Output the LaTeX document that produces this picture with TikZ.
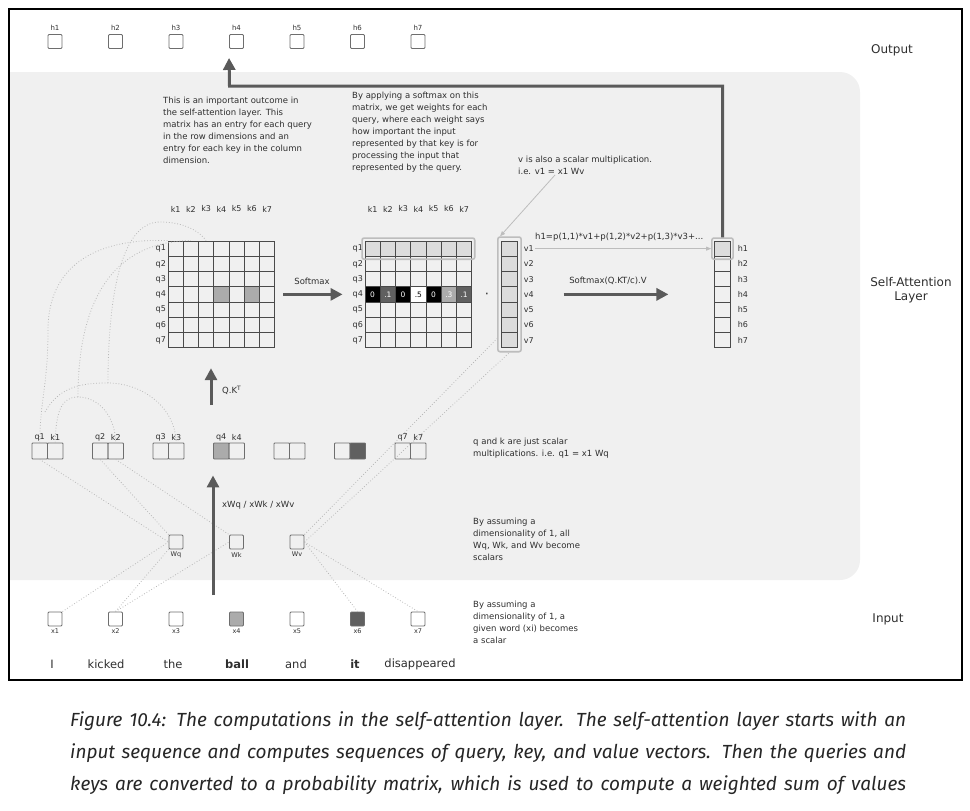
\documentclass[tikz,border=0pt]{standalone}
\usepackage{fontspec}
\setmainfont{DejaVu Sans}
\newfontfamily\capfont{Fira Sans}
\usetikzlibrary{arrows.meta, fit, positioning}

\definecolor{bggray}{HTML}{F0F0F0}
\definecolor{boxgray}{HTML}{6E6E6E}
\definecolor{gridgray}{HTML}{4A4A4A}
\definecolor{lightfill}{HTML}{DCDCDC}
\definecolor{midfill}{HTML}{ABABAB}
\definecolor{darkfill}{HTML}{606060}
\definecolor{arrowgray}{HTML}{5A5A5A}
\definecolor{dotgray}{HTML}{B8B8B8}
\definecolor{framegray}{HTML}{BDBDBD}
\definecolor{txtgray}{HTML}{2E2E2E}

\tikzset{
	sbox/.style={draw=boxgray, line width=0.9pt, rounded corners=1pt, minimum size=14pt, inner sep=0pt},
	pbox/.style={draw=boxgray, line width=0.9pt, rounded corners=0.8pt, minimum width=15.5pt, minimum height=16pt, inner sep=0pt},
	cell/.style={draw=gridgray, line width=0.9pt, minimum size=15.25pt, inner sep=0pt, font=\fontsize{7.5}{8}\selectfont},
	lbl/.style={font=\fontsize{8}{9}\selectfont, text=txtgray, inner sep=1pt},
	note/.style={font=\fontsize{8.5}{12}\selectfont, text=txtgray, align=left, inner sep=0pt, anchor=north west},
	sidelbl/.style={font=\fontsize{12}{14.5}\selectfont, text=txtgray, align=center},
	word/.style={font=\fontsize{11.5}{13}\selectfont, text=txtgray},
	capline/.style={anchor=west, inner sep=0pt, text=black!85, font=\capfont\itshape\fontsize{19}{19}\selectfont},
	bigarrow/.style={draw=arrowgray, line width=3pt, -{Triangle[length=12pt, width=12pt]}},
	thinarrow/.style={draw=framegray, line width=0.8pt, -{Triangle[length=5pt, width=4pt]}},
	dotline/.style={draw=dotgray, line width=0.8pt, dotted},
	hlframe/.style={draw=framegray, line width=1.6pt, rounded corners=2pt, inner sep=2.5pt},
}

\begin{document}
\begin{tikzpicture}[x=1pt, y=-1pt]
	\def\dx{60.5}
	\def\cw{15.25}
	\def\mtop{241}
	\useasboundingbox (0,0) rectangle (970,811);
	\begin{scope}
		\clip (9,9) rectangle (962,680);
		\fill[bggray, rounded corners=20pt] (-40,72) rectangle (860,580);
	\end{scope}
	\draw[black, line width=2.5pt] (9,9) rectangle (962,680);

	\foreach \i in {1,...,7} {
			\node[sbox, fill=white] (out\i) at ({55+\dx*(\i-1)}, 41.5) {};
			\node[lbl, font=\fontsize{7}{8}\selectfont, above=2pt of out\i] (outl\i) {h\i};
		}
	\foreach \i/\f in {1/white, 2/white, 3/white, 4/midfill, 5/white, 6/darkfill, 7/white} {
			\node[sbox, fill=\f] (in\i) at ({55+\dx*(\i-1)}, 619) {};
			\node[lbl, font=\fontsize{6.5}{7}\selectfont, below=1.5pt of in\i] (inl\i) {x\i};
		}
	\foreach \i/\x/\w in {1/52/I, 2/106/kicked, 3/173/the, 4/237/\textbf{ball}, 5/296/and, 6/355/\textbf{it}, 7/420/disappeared} {
			\node[word] (w\i) at (\x, 664) {\w};
		}
	\foreach \n/\t [count=\i] in {wq/Wq, wk/Wk, wv/Wv} {
			\node[sbox] (\n) at ({176+\dx*(\i-1)}, 542) {};
			\node[lbl, font=\fontsize{6.5}{7}\selectfont, below=1.5pt of \n] (\n-l) {\t};
		}
	\foreach \i/\qf/\kf in {1/none/none, 2/none/none, 3/none/none, 4/midfill/none, 5/none/none, 6/none/darkfill, 7/none/none} {
			\node[pbox, fill=\qf] (q\i) at ({39.75+\dx*(\i-1)}, 451) {};
			\node[pbox, fill=\kf] (k\i) at ({55.25+\dx*(\i-1)}, 451) {};
		}
	\foreach \i in {1,2,3,4,7} {
			\node[lbl, above=0.5pt of q\i] (ql\i) {q\i};
			\node[lbl, above=0.5pt of k\i] (kl\i) {k\i};
		}

	\fill[midfill] ({168+\cw*3}, {\mtop+\cw*3}) rectangle ++(\cw, \cw);
	\fill[midfill] ({168+\cw*5}, {\mtop+\cw*3}) rectangle ++(\cw, \cw);
	\fill[lightfill] (365, \mtop) rectangle ++({7*\cw}, \cw);
	\foreach \i in {1,...,7} {
			\foreach \j in {1,...,7} {
					\node[cell] (s-\i-\j) at ({168+\cw*(\j-0.5)}, {\mtop+\cw*(\i-0.5)}) {};
				}
			\node[lbl, left=0.5pt of s-\i-1] (sq\i) {q\i};
			\node[lbl] (sk\i) at ({168+\cw*(\i-0.5)}, 209) {k\i};
			\node[lbl] (pk\i) at ({365+\cw*(\i-0.5)}, 209) {k\i};
		}
	\foreach \i in {1,2,3,5,6,7} {
			\foreach \j in {1,...,7} {
					\node[cell] (p-\i-\j) at ({365+\cw*(\j-0.5)}, {\mtop+\cw*(\i-0.5)}) {};
				}
		}
	\foreach \val/\f/\c [count=\j] in {0/black/white, .1/darkfill/white, 0/black/white, .5/white/black, 0/black/white, .3/midfill/white, .1/darkfill/white} {
			\node[cell, fill=\f, text=\c] (p-4-\j) at ({365+\cw*(\j-0.5)}, {\mtop+\cw*3.5}) {\val};
		}
	\foreach \i in {1,...,7} {
			\node[lbl, left=0.5pt of p-\i-1] (pq\i) {q\i};
			\node[cell, fill=lightfill] (v-\i) at (509.5, {\mtop+\cw*(\i-0.5)}) {};
			\node[lbl, right=5pt of v-\i] (vl\i) {v\i};
			\node[cell] (h-\i) at (722.5, {\mtop+\cw*(\i-0.5)}) {};
			\node[lbl, right=6pt of h-\i] (hl\i) {h\i};
		}
	\node[cell, fill=lightfill] at (h-1) {};
	\node[hlframe, fit=(p-1-1)(p-1-7)] (pfr) {};
	\node[hlframe, inner sep=3.5pt, fit=(v-1)(v-7)] (vfr) {};
	\node[hlframe, fit=(h-1)] (hfr) {};
	\node[lbl, font=\fontsize{13}{13}\selectfont] (dotop) at (487, 296) {·};

	\node[note] (tA) at (163, 97) {This is an important outcome in\\the self-attention layer. This\\matrix has an entry for each query\\in the row dimensions and an\\entry for each key in the column\\dimension.};
	\node[note] (tB) at (352, 92) {By applying a softmax on this\\matrix, we get weights for each\\query, where each weight says\\how important the input\\represented by that key is for\\processing the input that\\represented by the query.};
	\node[note] (tV) at (518, 156) {v is also a scalar multiplication.\\i.e. v1 = x1 Wv};
	\node[note] (tQK) at (473, 438) {q and k are just scalar\\multiplications. i.e. q1 = x1 Wq};
	\node[note] (tW) at (473, 518) {By assuming a\\dimensionality of 1, all\\Wq, Wk, and Wv become\\scalars};
	\node[note] (tX) at (473, 601) {By assuming a\\dimensionality of 1, a\\given word (xi) becomes\\a scalar};
	\node[note, anchor=west] (hsum) at (535, 237.5) {h1=p(1,1)*v1+p(1,2)*v2+p(1,3)*v3+...};
	\node[note, anchor=center] (smv) at (608, 281) {Softmax(Q.KT/c).V};
	\node[note, anchor=center] (smx) at (312, 281) {Softmax};
	\node[note, anchor=west] (qkt) at (222, 390) {Q.K\textsuperscript{T}};
	\node[note, anchor=west] (xw) at (222, 505) {xWq / xWk / xWv};
	\node[sidelbl] (lout) at (892, 50) {Output};
	\node[sidelbl] (lsa) at (911, 290) {Self-Attention\\Layer};
	\node[sidelbl] (lin) at (888, 619) {Input};

	\draw[dotline] (in1.north east) -- (wq.west);
	\draw[dotline] (in2.north) -- (wq.south west);
	\draw[dotline] (in2.north) -- (wk.west);
	\draw[dotline] (wv.east) -- (in6.north);
	\draw[dotline] (wv.east) -- (in7.north);
	\draw[dotline] (q1.south) -- (wq.west);
	\draw[dotline] (q2.south) -- (wq.north west);
	\draw[dotline] (k2.south) -- (wk.north west);
	\draw[dotline] (wv.north east) -- ([yshift=14pt]vfr.south west);
	\draw[dotline] (wv.east) -- (vfr.south);

	\coordinate (apA) at (78, 397);
	\coordinate (apB) at (108, 383);
	\draw[dotline] (q1.north) .. controls (40,400) and (48,385) .. (48,330) .. controls (48,270) and (90,238) .. (s-1-1.north west);
	\draw[dotline] (k1.north) .. controls (56,410) and (62,397) .. (apA) .. controls (98,397) and (115,415) .. (k2.north);
	\draw[dotline] (apA) .. controls (78,320) and (100,242) .. (s-1-2.north);
	\draw[dotline] (45,412) .. controls (60,385) and (85,383) .. (apB) .. controls (140,383) and (175,405) .. (k3.north);
	\draw[dotline] (apB) .. controls (108,300) and (120,222) .. (160,222) .. controls (185,222) and (200,232) .. (s-1-3.north);

	\draw[thinarrow] ([xshift=37pt]tV.south west) -- ([xshift=3pt]vfr.north west);
	\draw[thinarrow] (vl1.east) -- (hfr.west);

	\coordinate (qkbase) at (211, 405);
	\coordinate (xwbase) at (213, 595);
	\coordinate (bend) at (229.5, 86);
	\draw[bigarrow] (qkbase) -- ([yshift=-20pt]qkbase |- s-7-3.south);
	\draw[bigarrow] (xwbase) -- ([yshift=-16pt]xwbase |- q4.south);
	\draw[bigarrow, shorten <=8pt, shorten >=22pt] (s-4-7.east) -- (p-4-1.west);
	\draw[bigarrow, shorten <=46pt, shorten >=46pt] (v-4.east) -- (h-4.west);
	\draw[bigarrow] (hfr.north) |- (bend) -- ([yshift=-9pt]out4.south west);

	\node[capline] (cap1) at (70, 721) {\makebox[836pt][s]{Figure 10.4: The computations in the self-attention layer. The self-attention layer starts with an}};
	\node[capline] (cap2) at (70, 753) {\makebox[836pt][s]{input sequence and computes sequences of query, key, and value vectors. Then the queries and}};
	\node[capline] (cap3) at (70, 785) {\makebox[836pt][s]{keys are converted to a probability matrix, which is used to compute a weighted sum of values}};
\end{tikzpicture}
\end{document}
